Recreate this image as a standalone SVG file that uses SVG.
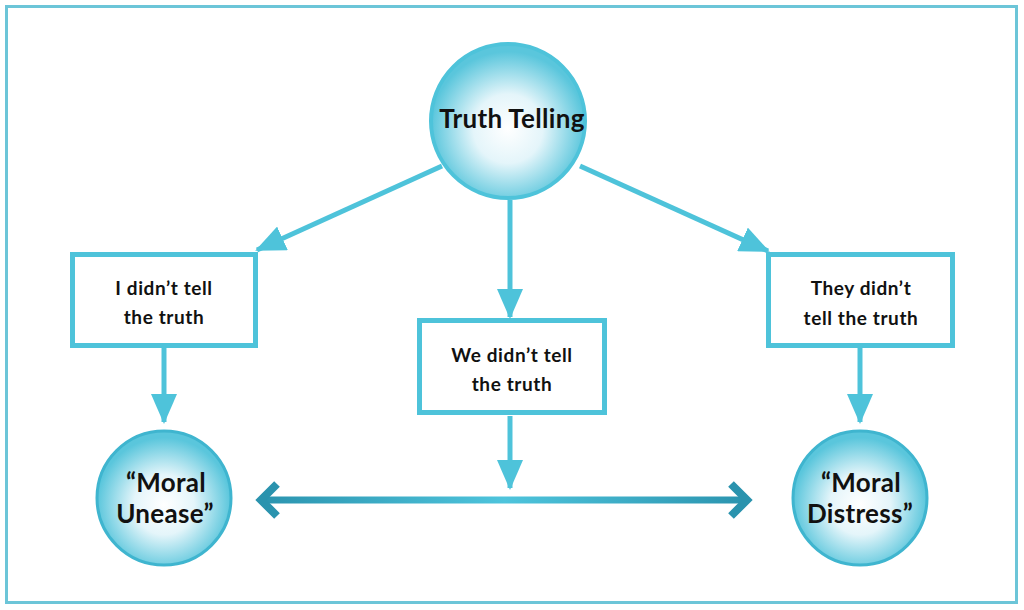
<svg xmlns="http://www.w3.org/2000/svg" width="1024" height="610" viewBox="0 0 1024 610">
<defs>
<radialGradient id="bubble" cx="50%" cy="55%" r="50%">
<stop offset="0" stop-color="#ffffff"/>
<stop offset="0.45" stop-color="#e4f5fa"/>
<stop offset="1" stop-color="#5ac6dc"/>
</radialGradient>
<linearGradient id="hbar" x1="258" y1="0" x2="750" y2="0" gradientUnits="userSpaceOnUse">
<stop offset="0" stop-color="#2a93ae"/>
<stop offset="0.5" stop-color="#4ec4dc"/>
<stop offset="1" stop-color="#2a93ae"/>
</linearGradient>
<marker id="tri" markerUnits="userSpaceOnUse" markerWidth="30" markerHeight="26" viewBox="0 0 30 26" refX="28" refY="13" orient="auto">
<path d="M0,0 L30,13 L0,26 Z" fill="#4ec3da"/>
</marker>
<style>
.frame{fill:none;stroke:#6cc5d8;stroke-width:3}
.bubble{fill:url(#bubble);stroke:#4ec3da;stroke-width:4}
.bubble2{fill:url(#bubble);stroke:#3fb5cf;stroke-width:3}
.box{fill:#ffffff;stroke:#4ec3da;stroke-width:5}
.conn{fill:none;stroke:#4ec3da;stroke-width:5;marker-end:url(#tri)}
.t{font-family:Lato,"Liberation Sans",sans-serif;font-weight:bold;fill:#111;text-anchor:middle}
.s{font-size:19px;letter-spacing:0.6px}
.b{font-size:26px;letter-spacing:0.3px}
</style>
</defs>
<rect class="frame" x="6.5" y="6.5" width="1010" height="596"/>
<g id="connectors">
<line class="conn" x1="442" y1="166" x2="257" y2="250"/>
<line class="conn" x1="510" y1="200" x2="510" y2="317"/>
<line class="conn" x1="580" y1="166" x2="768" y2="251"/>
<line class="conn" x1="164" y1="347" x2="164" y2="422"/>
<line class="conn" x1="510" y1="416" x2="510" y2="488"/>
<line class="conn" x1="860" y1="347" x2="860" y2="422"/>
<g id="double-arrow">
<line x1="262" y1="500" x2="746" y2="500" stroke="url(#hbar)" stroke-width="7"/>
<polyline points="277,484 261,500 277,516" fill="none" stroke="#2a93ae" stroke-width="8" stroke-linejoin="miter"/>
<polyline points="731,484 747,500 731,516" fill="none" stroke="#2a93ae" stroke-width="8" stroke-linejoin="miter"/>
</g>
</g>
<g id="truth-telling">
<circle class="bubble" cx="508" cy="121" r="77"/>
<text class="t b" x="512" y="128">Truth Telling</text>
</g>
<g id="i-didnt">
<rect class="box" x="72.5" y="254.5" width="183" height="91"/>
<text class="t s" x="164" y="295">I didn’t tell</text>
<text class="t s" x="164" y="324">the truth</text>
</g>
<g id="we-didnt">
<rect class="box" x="419.5" y="320.5" width="185" height="92"/>
<text class="t s" x="512" y="362">We didn’t tell</text>
<text class="t s" x="512" y="391">the truth</text>
</g>
<g id="they-didnt">
<rect class="box" x="768.5" y="254.5" width="184" height="91"/>
<text class="t s" x="861" y="295">They didn’t</text>
<text class="t s" x="861" y="325">tell the truth</text>
</g>
<g id="moral-unease">
<circle class="bubble2" cx="164" cy="498" r="67"/>
<text class="t b" x="166" y="492">“Moral</text>
<text class="t b" x="165" y="523">Unease”</text>
</g>
<g id="moral-distress">
<circle class="bubble2" cx="860" cy="498" r="67"/>
<text class="t b" x="861" y="492">“Moral</text>
<text class="t b" x="860" y="523">Distress”</text>
</g>
</svg>
